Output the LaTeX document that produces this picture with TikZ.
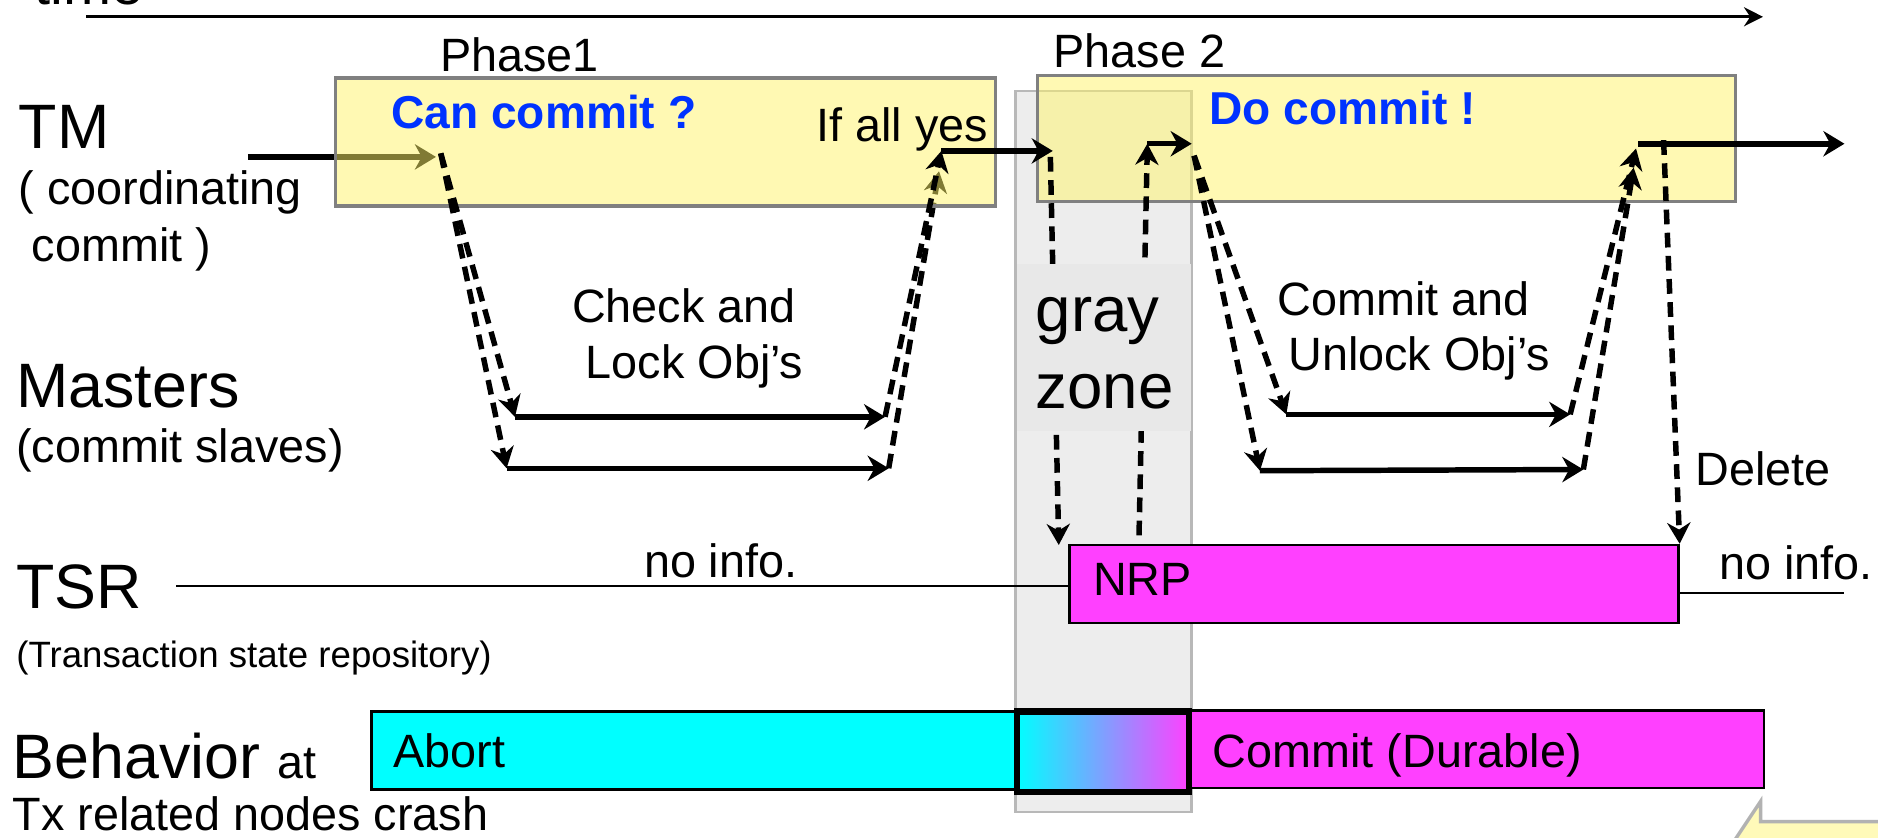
\documentclass[tikz,border=0pt]{standalone}
\usepackage{fontspec}
\setmainfont{Liberation Sans}
\usetikzlibrary{arrows.meta,positioning}
\definecolor{tmyellow}{RGB}{255,245,105}
\definecolor{zonegray}{RGB}{237,237,237}
\definecolor{labelgray}{RGB}{232,232,232}
\definecolor{phaseblue}{RGB}{0,51,255}
\definecolor{nrpmagenta}{RGB}{255,64,255}
\definecolor{abortcyan}{RGB}{0,255,255}
\definecolor{calloutyellow}{RGB}{255,250,185}
\newcommand{\bigsz}{\fontsize{14.9}{17}\selectfont}
\newcommand{\midsz}{\fontsize{11.1}{13.4}\selectfont}
\newcommand{\smallsz}{\fontsize{8.7}{10}\selectfont}
\newcommand{\zonesz}{\fontsize{15.1}{18.2}\selectfont}
\newcommand{\timesz}{\fontsize{13.7}{16}\selectfont}
\tikzset{
  txt/.style={inner sep=0pt, anchor=base west, font=\midsz},
  ctxt/.style={inner sep=0pt, anchor=base, font=\midsz},
  lanelbl/.style={inner sep=0pt, anchor=base west, font=\bigsz},
  phasetxt/.style={inner sep=0pt, anchor=base west,
    font=\fontsize{10.95}{13}\selectfont\bfseries, text=phaseblue},
  tmbox/.style={draw=gray, fill=tmyellow, fill opacity=0.5, line width=0.8pt},
  zonebox/.style={draw=black!28, fill=zonegray, line width=0.6pt},
  nrpbox/.style={draw, fill=nrpmagenta, line width=0.6pt, inner sep=0pt,
    anchor=north west, minimum width=5.08cm, minimum height=0.65cm},
  barbox/.style={draw, line width=0.6pt},
  callout/.style={draw=black!30, fill=calloutyellow, line width=0.8pt},
  msg/.style={-{Stealth[length=5pt,width=6pt]}, line width=1.3pt},
  tmarr/.style={msg, line width=1.5pt},
  vote/.style={-{Stealth[length=5pt,width=5.5pt]}, line width=1.3pt,
    dash pattern=on 3.5pt off 2pt},
  timearr/.style={-{Stealth[length=4.5pt,width=4.5pt]}, line width=0.8pt},
  tsrline/.style={line width=0.5pt},
}

\begin{document}
\begin{tikzpicture}[x=0.01cm, y=-0.01cm]
  \useasboundingbox (0,0) rectangle (1568,699);
  \clip (0,0) rectangle (1568,699);
  \fill[white] (0,0) rectangle (1568,699);

  % time axis
  \node[lanelbl, font=\timesz] (time) at (28,4) {time};
  \coordinate (t0) at (72,14);
  \coordinate (t1) at (1472,14);
  \draw[timearr] (t0) -- (t1);

  % lanes
  \node[lanelbl] (tm) at (15,124) {TM};
  \node[txt] (tm2) at (15,171) {( coordinating};
  \node[txt] (tm3) at (15,218) {\ commit )};
  \node[lanelbl] (ms) at (13,340) {Masters};
  \node[txt] (ms2) at (13,386) {(commit slaves)};
  \node[lanelbl] (tsr) at (13,508) {TSR};
  \node[txt, font=\smallsz] (tsr2) at (13,557) {(Transaction state repository)};
  \node[lanelbl] (beh) at (10,650) {Behavior {\midsz at}};
  \node[txt] (beh2) at (10,693) {Tx related nodes crash};

  % gray zone
  \draw[zonebox] (848,76) rectangle (995,678);

  % points of the protocol
  \coordinate (in0) at (207,131);
  \coordinate (p1s) at (364,131);
  \coordinate (a0) at (368,128);
  \coordinate (m1l) at (430,348);
  \coordinate (m1r) at (739,348);
  \coordinate (m2l) at (423,391);
  \coordinate (m2r) at (742,391);
  \coordinate (y0) at (786,126);
  \coordinate (y0b) at (784,143);
  \coordinate (y1) at (879,126);
  \coordinate (g0) at (877,131);
  \coordinate (g1) at (884,455);
  \coordinate (g2) at (951,447);
  \coordinate (g3) at (958,120);
  \coordinate (g4) at (995,120);
  \coordinate (b0) at (997,130);
  \coordinate (n1l) at (1074,346);
  \coordinate (n1r) at (1311,346);
  \coordinate (n2l) at (1052,393);
  \coordinate (n2r) at (1322,392);
  \coordinate (c0) at (1366,124);
  \coordinate (c0b) at (1364,140);
  \coordinate (c1) at (1368,120);
  \coordinate (out) at (1540,120);
  \coordinate (d0) at (1389,117);

  % under the TM boxes
  \draw[tmarr] (in0) -- (p1s);
  \draw[vote] (m2r) -- (y0b);

  % TM boxes
  \draw[tmbox] (280,65) rectangle (831,172);
  \draw[tmbox] (866,63) rectangle (1449,168);

  \node[txt] (ph1) at (367,60) {Phase1};
  \node[txt] (ph2) at (879,56) {Phase 2};
  \node[phasetxt] (can) at (326,107) {Can commit ?};
  \node[phasetxt] (do) at (1009,104) {Do commit !};
  \node[txt] (yes) at (681,118) {If all yes};

  % Phase 1
  \draw[vote] (a0) -- (m1l);
  \draw[vote] (a0) -- (m2l);
  \draw[msg] (m1l) -- (m1r);
  \draw[msg] (m2l) -- (m2r);
  \draw[vote] (m1r) -- (y0);
  \draw[tmarr] (y0) -- (y1);
  \node[ctxt] (chk1) at (571,269) {Check and};
  \node[ctxt] (chk2) at (580,316) {Lock Obj’s};

  % Phase 2
  \draw[vote] (g0) -- (g1);
  \draw[vote] (g2) -- (g3);
  \draw[msg] (g3) -- (g4);
  \draw[vote] (b0) -- (n1l);
  \draw[vote] (b0) -- (n2l);
  \draw[msg] (n1l) -- (n1r);
  \draw[msg] (n2l) -- (n2r);
  \draw[vote] (n1r) -- (c0);
  \draw[vote] (n2r) -- (c0b);
  \draw[tmarr] (c1) -- (out);
  \node[ctxt] (cmt1) at (1172,263) {Commit and};
  \node[ctxt] (cmt2) at (1185,309) {Unlock Obj’s};

  % gray zone label
  \fill[labelgray] (849,220) rectangle (994,360);
  \node[txt, font=\zonesz] (gray) at (864,277) {gray};
  \node[txt, font=\zonesz] (zone) at (864,341) {zone};

  % TSR
  \node[nrpbox] (nrp) at (892,454) {};
  \node[txt] (nrptxt) at (912,497) {NRP};
  \coordinate (tsrL) at (147,489);
  \coordinate (tsrR) at (1540,495);
  \draw[tsrline] (tsrL) -- (nrp.west |- tsrL);
  \draw[tsrline] (nrp.east |- tsrR) -- (tsrR);
  \node[txt] (noinfo1) at (537,482) {no info.};
  \node[txt] (noinfo2) at (1435,484) {no info.};
  \draw[vote] (d0) -- (nrp.north east);
  \node[txt] (del) at (1415,405) {Delete};

  % behavior bars
  \draw[barbox, fill=abortcyan] (310,594) rectangle (848,659);
  \draw[barbox, fill=nrpmagenta] (993,593) rectangle (1473,658);
  \draw[line width=1.5pt, left color=abortcyan, right color=nrpmagenta]
    (849,594) rectangle (993,661);
  \node[txt] (abort) at (328,641) {Abort};
  \node[txt] (durable) at (1012,641) {Commit (Durable)};

  % callout
  \draw[callout] (1446,705) -- (1470,669) -- (1470,686) -- (1575,686) -- (1575,705);
\end{tikzpicture}
\end{document}
